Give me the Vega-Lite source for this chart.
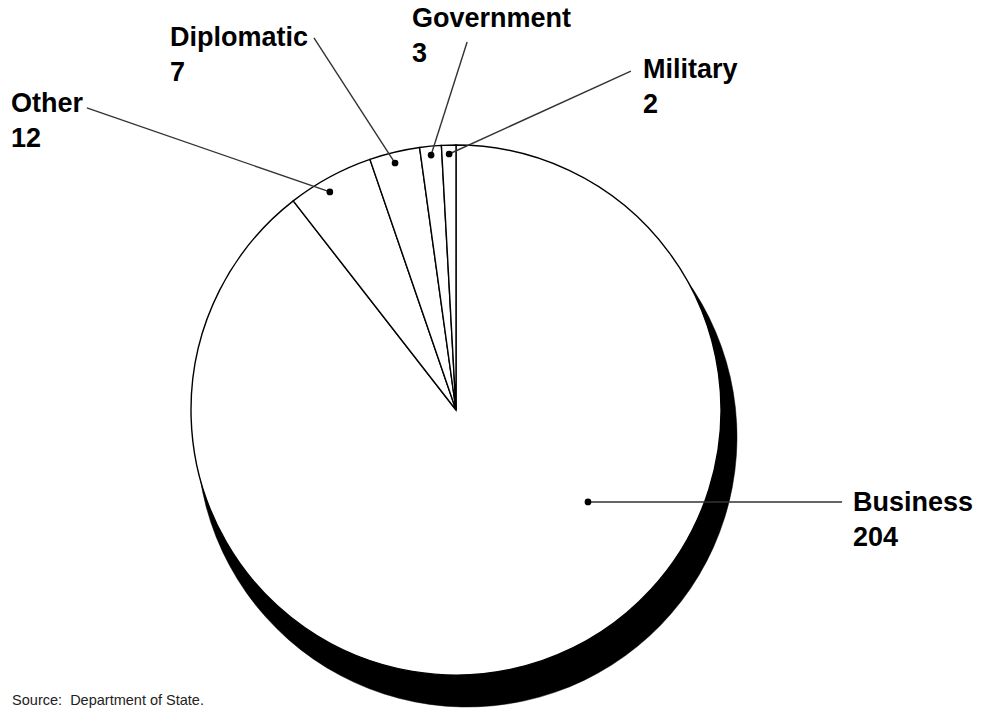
{
  "$schema": "https://vega.github.io/schema/vega-lite/v6.json",
  "width": 990,
  "height": 708,
  "padding": 0,
  "autosize": "none",
  "background": "white",
  "view": {"stroke": null},
  "config": {"font": "Liberation Sans"},
  "datasets": {
    "shares": [
      {"category": "Business", "count": 204, "order": 1},
      {"category": "Other", "count": 12, "order": 2},
      {"category": "Diplomatic", "count": 7, "order": 3},
      {"category": "Government", "count": 3, "order": 4},
      {"category": "Military", "count": 2, "order": 5}
    ],
    "callouts": [
      {"category": "Business", "dot_u": 0.498, "dot_v": -0.347, "end_u": 1.457, "end_v": -0.347, "lab_u": 1.498, "lab_v": -0.381},
      {"category": "Other", "dot_u": -0.476, "dot_v": 0.823, "end_u": -1.393, "end_v": 1.140, "lab_u": -1.679, "lab_v": 1.125},
      {"category": "Diplomatic", "dot_u": -0.230, "dot_v": 0.932, "end_u": -0.536, "end_v": 1.404, "lab_u": -1.079, "lab_v": 1.374},
      {"category": "Government", "dot_u": -0.094, "dot_v": 0.962, "end_u": 0.042, "end_v": 1.389, "lab_u": -0.166, "lab_v": 1.445},
      {"category": "Military", "dot_u": -0.026, "dot_v": 0.966, "end_u": 0.660, "end_v": 1.279, "lab_u": 0.706, "lab_v": 1.253}
    ],
    "note": [
      {"text": "Source:\u00a0 Department of State.", "u": -1.675, "v": -1.113}
    ]
  },
  "layer": [
    {
      "data": {"name": "shares"},
      "mark": {"type": "arc", "outerRadius": 270, "fill": "black", "stroke": "black", "strokeWidth": 0.5},
      "encoding": {
        "x": {"datum": 0.0415, "type": "quantitative", "scale": {"domain": [-1.72075, 2.01509], "nice": false, "zero": false}, "axis": null},
        "y": {"datum": -0.1019, "type": "quantitative", "scale": {"domain": [-1.12453, 1.54717], "nice": false, "zero": false}, "axis": null},
        "theta": {"field": "count", "type": "quantitative", "stack": true},
        "order": {"field": "order", "type": "quantitative"}
      }
    },
    {
      "data": {"name": "shares"},
      "mark": {"type": "arc", "outerRadius": 265, "fill": "white", "stroke": "black", "strokeWidth": 1.4},
      "encoding": {
        "x": {"datum": 0, "type": "quantitative", "scale": {"domain": [-1.72075, 2.01509], "nice": false, "zero": false}, "axis": null},
        "y": {"datum": 0, "type": "quantitative", "scale": {"domain": [-1.12453, 1.54717], "nice": false, "zero": false}, "axis": null},
        "theta": {"field": "count", "type": "quantitative", "stack": true},
        "order": {"field": "order", "type": "quantitative"}
      }
    },
    {
      "data": {"name": "callouts"},
      "mark": {"type": "rule", "color": "#333333", "strokeWidth": 1.4},
      "encoding": {
        "x": {"field": "dot_u", "type": "quantitative", "axis": null},
        "y": {"field": "dot_v", "type": "quantitative", "axis": null},
        "x2": {"field": "end_u"},
        "y2": {"field": "end_v"}
      }
    },
    {
      "data": {"name": "callouts"},
      "mark": {"type": "point", "filled": true, "color": "black", "size": 45, "opacity": 1},
      "encoding": {
        "x": {"field": "dot_u", "type": "quantitative", "axis": null},
        "y": {"field": "dot_v", "type": "quantitative", "axis": null}
      }
    },
    {
      "data": {"name": "callouts"},
      "transform": [
        {"lookup": "category", "from": {"data": {"name": "shares"}, "key": "category", "fields": ["count"]}}
      ],
      "layer": [
        {
          "mark": {"type": "text", "align": "left", "baseline": "alphabetic", "fontSize": 27, "fontWeight": "bold", "color": "black"},
          "encoding": {
            "x": {"field": "lab_u", "type": "quantitative", "axis": null},
            "y": {"field": "lab_v", "type": "quantitative", "axis": null},
            "text": {"field": "category"}
          }
        },
        {
          "mark": {"type": "text", "align": "left", "baseline": "alphabetic", "fontSize": 27, "fontWeight": "bold", "color": "black", "dy": 35},
          "encoding": {
            "x": {"field": "lab_u", "type": "quantitative", "axis": null},
            "y": {"field": "lab_v", "type": "quantitative", "axis": null},
            "text": {"field": "count", "type": "quantitative"}
          }
        }
      ]
    },
    {
      "data": {"name": "note"},
      "mark": {"type": "text", "align": "left", "baseline": "alphabetic", "fontSize": 14.5, "color": "#222222"},
      "encoding": {
        "x": {"field": "u", "type": "quantitative", "axis": null},
        "y": {"field": "v", "type": "quantitative", "axis": null},
        "text": {"field": "text"}
      }
    }
  ]
}
